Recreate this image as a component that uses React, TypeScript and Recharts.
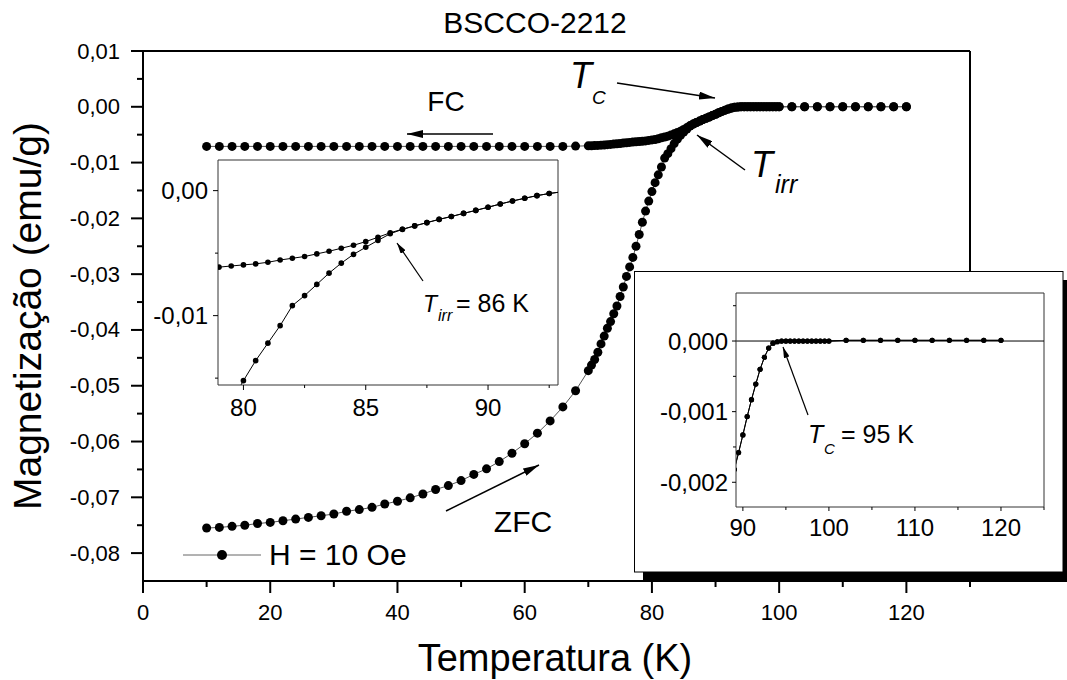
import React from 'react';
import { LineChart, Line, XAxis, YAxis, ReferenceLine } from 'recharts';

// temperatures (K) of the FC run
const fcT = [
  10, 12, 14, 16, 18, 20, 22, 24, 26, 28, 30, 32, 34, 36, 38, 40, 42, 44, 46, 48,
  50, 52, 54, 56, 58, 60, 62, 64, 66, 68,
  70, 70.5, 71, 71.5, 72, 72.5, 73, 73.5, 74, 74.5, 75, 75.5, 76, 76.5, 77, 77.5,
  78, 78.5, 79, 79.5, 80, 80.5, 81, 81.5, 82, 82.5, 83, 83.5, 84, 84.5, 85, 85.5,
  86, 86.5, 87, 87.5, 88, 88.5, 89, 89.5, 90, 90.5, 91, 91.5, 92, 92.5, 93, 93.5,
  94, 94.5, 95, 95.5, 96, 96.5, 97, 97.5, 98, 98.5, 99, 99.5, 100,
  102, 104, 106, 108, 110, 112, 114, 116, 118, 120,
];
// magnetization (emu/g) of the FC run
const fcM = [
  -0.0071, -0.0071, -0.0071, -0.0071, -0.0071, -0.0071, -0.0071, -0.0071, -0.0071, -0.0071,
  -0.0071, -0.0071, -0.0071, -0.0071, -0.0071, -0.0071, -0.0071, -0.0071, -0.0071, -0.0071,
  -0.0071, -0.0071, -0.0071, -0.0071, -0.0071, -0.0071, -0.0071, -0.0071, -0.0071, -0.00705,
  -0.007, -0.00698, -0.00695, -0.00692, -0.00688, -0.00684, -0.00679, -0.00674, -0.00669, -0.00663,
  -0.00657, -0.00651, -0.00645, -0.00639, -0.00633, -0.00627, -0.00622, -0.00617, -0.00612, -0.00603,
  -0.00594, -0.00586, -0.00573, -0.00555, -0.00541, -0.00527, -0.00506, -0.00485, -0.00461, -0.00437,
  -0.00408, -0.00373, -0.00337, -0.00309, -0.00282, -0.00256, -0.0023, -0.00207, -0.00182, -0.00158,
  -0.00133, -0.00107, -0.00083, -0.00061, -0.0004, -0.00023, -0.0001, -0.00003, -0.00001, 0,
  0, 0, 0, 0, 0, 0, 0, 0, 0, 0, 0,
  0.00001, 0.00001, 0.00001, 0.00001, 0.00001, 0.00001, 0.00001, 0.00001, 0.00001, 0.00001,
];

// temperatures (K) of the ZFC run
const zfcT = [
  10, 12, 14, 16, 18, 20, 22, 24, 26, 28, 30, 32, 34, 36, 38, 40, 42, 44, 46, 48,
  50, 52, 54, 56, 58, 60, 62, 64, 66, 68,
  70, 70.5, 71, 71.5, 72, 72.5, 73, 73.5, 74, 74.5, 75, 75.5, 76, 76.5, 77, 77.5,
  78, 78.5, 79, 79.5, 80, 80.5, 81, 81.5, 82, 82.5, 83, 83.5, 84, 84.5, 85, 85.5,
  86, 86.5, 87, 87.5, 88, 88.5, 89, 89.5, 90, 90.5, 91, 91.5, 92, 92.5, 93, 93.5,
  94, 94.5, 95, 95.5, 96, 96.5, 97, 97.5, 98, 98.5, 99, 99.5, 100,
  102, 104, 106, 108, 110, 112, 114, 116, 118, 120,
];
// magnetization (emu/g) of the ZFC run
const zfcM = [
  -0.0755, -0.0754, -0.0752, -0.075, -0.0747, -0.0745, -0.0742, -0.0739, -0.0736, -0.0733,
  -0.073, -0.0725, -0.0722, -0.0718, -0.0712, -0.0707, -0.0701, -0.0694, -0.0686, -0.0679,
  -0.067, -0.0659, -0.0649, -0.0636, -0.0621, -0.0604, -0.0585, -0.0563, -0.0538, -0.0509,
  -0.0473, -0.0463, -0.0453, -0.044, -0.0425, -0.0411, -0.0397, -0.0385, -0.0371, -0.0357,
  -0.034, -0.0323, -0.0304, -0.0287, -0.027, -0.025, -0.0229, -0.0207, -0.0187, -0.0169,
  -0.0152, -0.0136, -0.0122, -0.0108, -0.0092, -0.0084, -0.0075, -0.0066, -0.0058, -0.0051,
  -0.00453, -0.00398, -0.00345, -0.0031, -0.00282, -0.00256, -0.0023, -0.00207, -0.00182, -0.00158,
  -0.00133, -0.00107, -0.00083, -0.00061, -0.0004, -0.00023, -0.0001, -0.00003, -0.00001, 0,
  0, 0, 0, 0, 0, 0, 0, 0, 0, 0, 0,
  0.00001, 0.00001, 0.00001, 0.00001, 0.00001, 0.00001, 0.00001, 0.00001, 0.00001, 0.00001,
];

// axis ticks (majors get a label)
const mainXTicks = [0, 10, 20, 30, 40, 50, 60, 70, 80, 90, 100, 110, 120, 130];
const mainYTicks = [0.01, 0.005, 0, -0.005, -0.01, -0.015, -0.02, -0.025, -0.03, -0.035, -0.04, -0.045,
  -0.05, -0.055, -0.06, -0.065, -0.07, -0.075, -0.08];
const irrXTicks = [80, 82.5, 85, 87.5, 90, 92.5];
const irrYTicks = [0, -0.005, -0.01, -0.015];
const tcXTicks = [90, 95, 100, 105, 110, 115, 120, 125];
const tcYTicks = [0.0005, 0, -0.0005, -0.001, -0.0015, -0.002];

const fcData = fcT.map((t, i) => ({ t, m: fcM[i] }));
const zfcData = zfcT.map((t, i) => ({ t, m: zfcM[i] }));

const FONT = '"Liberation Sans", Arial, sans-serif';
const W = 1067;
const H = 680;
const AX_W = 60; // y axis box width
const AX_H = 40; // x axis box height

const isStep = (v: number, step: number) => Math.abs(v / step - Math.round(v / step)) < 1e-6;
const comma = (v: number, d: number) => v.toFixed(d).replace('.', ',');

type TickOpts = {
  major: (v: number) => boolean;
  fmt: (v: number) => string;
  majorLen: number;
  minorLen: number;
  gap: number;
  fontSize: number;
  sw: number;
};

const xTick = (o: TickOpts) => (props: any) => {
  const { x, y, payload } = props;
  const mj = o.major(payload.value);
  return (
    <g>
      <line x1={x} x2={x} y1={y} y2={y + (mj ? o.majorLen : o.minorLen)} stroke="#000" strokeWidth={o.sw} />
      {mj && (
        <text x={x} y={y + o.gap} textAnchor="middle" dominantBaseline="central" fontSize={o.fontSize}
          fontFamily={FONT} fill="#000">
          {o.fmt(payload.value)}
        </text>
      )}
    </g>
  );
};

const yTick = (o: TickOpts) => (props: any) => {
  const { x, y, payload } = props;
  const mj = o.major(payload.value);
  return (
    <g>
      <line x1={x - (mj ? o.majorLen : o.minorLen)} x2={x} y1={y} y2={y} stroke="#000" strokeWidth={o.sw} />
      {mj && (
        <text x={x - o.gap} y={y} textAnchor="end" dominantBaseline="central" fontSize={o.fontSize}
          fontFamily={FONT} fill="#000">
          {o.fmt(payload.value)}
        </text>
      )}
    </g>
  );
};

const layer: React.CSSProperties = { position: 'absolute', left: 0, top: 0 };

// plot box given in page pixels: left, top, right, bottom
const boxMargin = (l: number, t: number, r: number, b: number) => ({
  left: l - AX_W,
  top: t,
  right: W - r,
  bottom: H - b - AX_H,
});

const MainChart = () => (
  <LineChart width={W} height={H} margin={boxMargin(143, 51, 970, 581)} style={layer}>
    <XAxis type="number" dataKey="t" domain={[0, 130]} ticks={mainXTicks} interval={0} height={AX_H}
      tickSize={0} tickMargin={0} axisLine={{ stroke: '#000', strokeWidth: 2 }} tickLine={false}
      tick={xTick({ major: (v) => isStep(v, 20), fmt: (v) => String(v), majorLen: 12, minorLen: 6, gap: 31, fontSize: 22, sw: 2 })} />
    <YAxis type="number" dataKey="m" domain={[-0.085, 0.01]} ticks={mainYTicks} interval={0} width={AX_W}
      tickSize={0} tickMargin={0} axisLine={{ stroke: '#000', strokeWidth: 2 }} tickLine={false}
      tick={yTick({ major: (v) => isStep(v, 0.01), fmt: (v) => comma(v, 2), majorLen: 12, minorLen: 6, gap: 23, fontSize: 22, sw: 2 })} />
    <ReferenceLine y={0.01} stroke="#000" strokeWidth={2} />
    <ReferenceLine x={130} stroke="#000" strokeWidth={2} />
    <Line data={zfcData} dataKey="m" type="linear" stroke="#555" strokeWidth={1}
      dot={{ r: 4.5, fill: '#000', stroke: 'none' }} activeDot={false} isAnimationActive={false} />
    <Line data={fcData} dataKey="m" type="linear" stroke="#555" strokeWidth={1}
      dot={{ r: 4.5, fill: '#000', stroke: 'none' }} activeDot={false} isAnimationActive={false} />
  </LineChart>
);

const IrrInset = () => (
  <LineChart width={W} height={H} margin={boxMargin(218, 160, 558, 385)} style={layer}>
    <XAxis type="number" dataKey="t" domain={[78.96, 92.86]} allowDataOverflow ticks={irrXTicks} interval={0} height={AX_H}
      tickSize={0} tickMargin={0} axisLine={{ stroke: '#333', strokeWidth: 1 }} tickLine={false}
      tick={xTick({ major: (v) => isStep(v, 5), fmt: (v) => String(v), majorLen: 5, minorLen: 3, gap: 22, fontSize: 24, sw: 1 })} />
    <YAxis type="number" dataKey="m" domain={[-0.01555, 0.00245]} allowDataOverflow ticks={irrYTicks} interval={0} width={AX_W}
      tickSize={0} tickMargin={0} axisLine={{ stroke: '#333', strokeWidth: 1 }} tickLine={false}
      tick={yTick({ major: (v) => isStep(v, 0.01), fmt: (v) => comma(v, 2), majorLen: 5, minorLen: 3, gap: 10, fontSize: 24, sw: 1 })} />
    <ReferenceLine y={0.00245} stroke="#333" strokeWidth={1} />
    <ReferenceLine x={92.86} stroke="#333" strokeWidth={1} />
    <Line data={zfcData} dataKey="m" type="linear" stroke="#000" strokeWidth={1}
      dot={{ r: 2.8, fill: '#000', stroke: 'none' }} activeDot={false} isAnimationActive={false} />
    <Line data={fcData} dataKey="m" type="linear" stroke="#000" strokeWidth={1}
      dot={{ r: 2.8, fill: '#000', stroke: 'none' }} activeDot={false} isAnimationActive={false} />
  </LineChart>
);

const TcInset = () => (
  <LineChart width={W} height={H} margin={boxMargin(736, 293, 1044, 507)} style={layer}>
    <XAxis type="number" dataKey="t" domain={[89.2, 125]} allowDataOverflow ticks={tcXTicks} interval={0} height={AX_H}
      tickSize={0} tickMargin={0} axisLine={{ stroke: '#333', strokeWidth: 1 }} tickLine={false}
      tick={xTick({ major: (v) => isStep(v, 10), fmt: (v) => String(v), majorLen: 4, minorLen: 3, gap: 20, fontSize: 24, sw: 1 })} />
    <YAxis type="number" dataKey="m" domain={[-0.00235, 0.00068]} allowDataOverflow ticks={tcYTicks} interval={0} width={AX_W}
      tickSize={0} tickMargin={0} axisLine={{ stroke: '#333', strokeWidth: 1 }} tickLine={false}
      tick={yTick({ major: (v) => isStep(v, 0.001), fmt: (v) => comma(v, 3), majorLen: 4, minorLen: 3, gap: 8, fontSize: 24, sw: 1 })} />
    <ReferenceLine y={0.00068} stroke="#333" strokeWidth={1} />
    <ReferenceLine x={125} stroke="#333" strokeWidth={1} />
    <ReferenceLine y={0} stroke="#000" strokeWidth={1} />
    <Line data={zfcData} dataKey="m" type="linear" stroke="#000" strokeWidth={1}
      dot={{ r: 2.6, fill: '#000', stroke: 'none' }} activeDot={false} isAnimationActive={false} />
    <Line data={fcData} dataKey="m" type="linear" stroke="#000" strokeWidth={1}
      dot={{ r: 2.6, fill: '#000', stroke: 'none' }} activeDot={false} isAnimationActive={false} />
  </LineChart>
);

const txt = { fontFamily: FONT, fill: '#000' };

const Annotations = () => (
  <svg width={W} height={H} style={{ ...layer, pointerEvents: 'none' }}>
    <defs>
      <marker id="headBig" markerUnits="userSpaceOnUse" markerWidth={16} markerHeight={8} refX={16} refY={4} orient="auto">
        <path d="M0,0 L16,4 L0,8 z" fill="#000" />
      </marker>
      <marker id="headSmall" markerUnits="userSpaceOnUse" markerWidth={11} markerHeight={6} refX={11} refY={3} orient="auto">
        <path d="M0,0 L11,3 L0,6 z" fill="#000" />
      </marker>
    </defs>
    <text x={535} y={33} textAnchor="middle" fontSize={30} {...txt}>BSCCO-2212</text>
    <text transform="translate(41,316) rotate(-90)" textAnchor="middle" fontSize={39} {...txt}>Magnetização (emu/g)</text>
    <text x={555} y={671} textAnchor="middle" fontSize={38} {...txt}>Temperatura (K)</text>

    <line x1={183} x2={261} y1={555} y2={555} stroke="#666" strokeWidth={1} />
    <circle cx={222} cy={555} r={5} fill="#000" />
    <text x={269} y={565} fontSize={30} {...txt}>H = 10 Oe</text>

    <text x={446} y={111} textAnchor="middle" fontSize={28} {...txt}>FC</text>
    <line x1={493} y1={134} x2={407} y2={134} stroke="#000" strokeWidth={1.5} markerEnd="url(#headBig)" />
    <text x={523} y={532} textAnchor="middle" fontSize={30} {...txt}>ZFC</text>
    <line x1={446} y1={511} x2={539} y2={465} stroke="#000" strokeWidth={1.5} markerEnd="url(#headBig)" />

    <text x={570} y={88} fontSize={36} fontStyle="italic" {...txt}>T</text>
    <text x={592} y={104} fontSize={19} fontStyle="italic" {...txt}>C</text>
    <line x1={617} y1={83} x2={715} y2={98} stroke="#000" strokeWidth={1.5} markerEnd="url(#headBig)" />

    <text x={751} y={177} fontSize={36} fontStyle="italic" {...txt}>T</text>
    <text x={775} y={193} fontSize={25} fontStyle="italic" {...txt}>irr</text>
    <line x1={745} y1={170} x2={697} y2={135} stroke="#000" strokeWidth={1.5} markerEnd="url(#headBig)" />

    <text x={423} y={312} fontSize={23} fontStyle="italic" {...txt}>T</text>
    <text x={438} y={321} fontSize={16} fontStyle="italic" {...txt}>irr</text>
    <text x={456} y={312} fontSize={25} {...txt}>= 86 K</text>
    <line x1={423} y1={281} x2={397} y2={243} stroke="#000" strokeWidth={1.2} markerEnd="url(#headSmall)" />

    <rect x={643} y={280} width={430} height={302} fill="#000" />
    <rect x={634.5} y={271.5} width={428.5} height={300.5} fill="#fff" stroke="#000" strokeWidth={1} />
  </svg>
);

const TcAnnotation = () => (
  <svg width={W} height={H} style={{ ...layer, pointerEvents: 'none' }}>
    <defs>
      <marker id="headSmall2" markerUnits="userSpaceOnUse" markerWidth={11} markerHeight={6} refX={11} refY={3} orient="auto">
        <path d="M0,0 L11,3 L0,6 z" fill="#000" />
      </marker>
    </defs>
    <text x={808} y={443} fontSize={25} fontStyle="italic" {...txt}>T</text>
    <text x={824} y={454} fontSize={15} fontStyle="italic" {...txt}>C</text>
    <text x={841} y={443} fontSize={25} {...txt}>= 95 K</text>
    <line x1={808} y1={415} x2={783} y2={347} stroke="#000" strokeWidth={1.2} markerEnd="url(#headSmall2)" />
  </svg>
);

export default function App() {
  return (
    <div style={{ position: 'absolute', left: 0, top: 0, width: W, height: H, background: '#fff', overflow: 'hidden' }}>
      <MainChart />
      <IrrInset />
      <Annotations />
      <TcInset />
      <TcAnnotation />
    </div>
  );
}
